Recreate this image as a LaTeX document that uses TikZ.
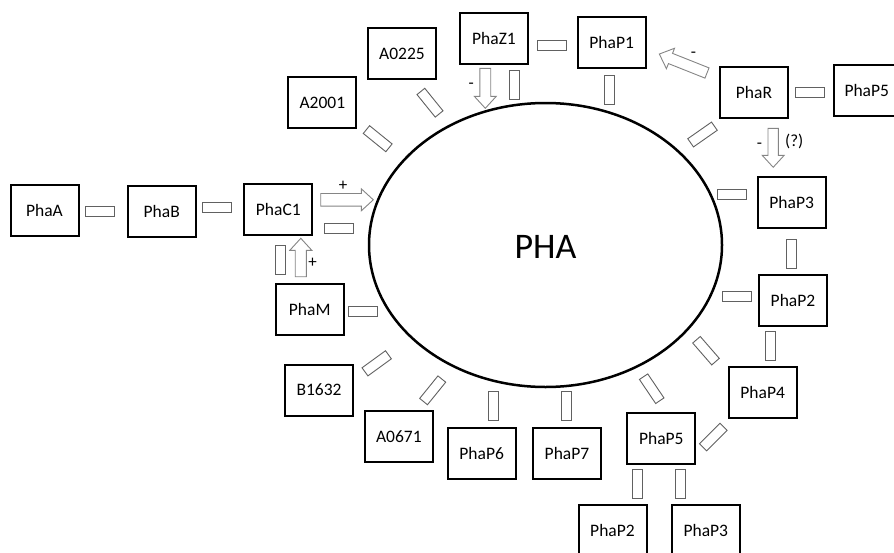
\documentclass[tikz,border=0pt]{standalone}
\usepackage{fontspec}
\setmainfont{Carlito}
\usetikzlibrary{shapes.geometric}
\newcommand{\blockarrow}[4]{% #1 tail point, #2 angle, #3 length, #4 half body width
  \draw[barrow, shift={#1}, rotate=#2] (0,-#4) -- ({#3-12},-#4) -- ({#3-12},-11) -- (#3,0) -- ({#3-12},11) -- ({#3-12},#4) -- (0,#4) -- cycle;}
\begin{document}
\begin{tikzpicture}[x=1pt,y=-1pt,
  box/.style={draw=black, line width=2pt, minimum width=68pt, minimum height=51pt, inner sep=0pt, fill=white, font=\fontsize{17.5}{20}\selectfont},
  link/.style={draw=black!62, line width=0.9pt, minimum width=29pt, minimum height=10pt, inner sep=0pt, fill=white},
  vlink/.style={link, minimum width=10pt, minimum height=29pt},
  barrow/.style={draw=black!48, line width=0.9pt, fill=white},
  sign/.style={anchor=base, inner sep=0pt, font=\fontsize{17}{20}\selectfont}]
\useasboundingbox (0,0) rectangle (894,552);
\clip (0,0) rectangle (894,552);

% central PHA ellipse
\node[draw=black, line width=2.5pt, ellipse, minimum width=353pt, minimum height=284pt, inner sep=0pt] (pha) at (545.5,245) {};
\node[font=\fontsize{36}{40}\selectfont, inner sep=0pt] (phatext) at (545.5,246.7) {PHA};

% boxes
\node[box] (phaA)  at (44.5,210)   {PhaA};
\node[box] (phaB)  at (161.7,211.3) {PhaB};
\node[box] (phaC1) at (278.3,209.7) {PhaC1};
\node[box] (phaM)  at (309.7,309.3) {PhaM};
\node[box] (a2001) at (322.3,102.7) {A2001};
\node[box] (a0225) at (402,53.7)   {A0225};
\node[box] (phaZ1) at (494,38.8)   {PhaZ1};
\node[box] (phaP1) at (611.7,42.3) {PhaP1};
\node[box] (phaR)  at (754,92)     {PhaR};
\node[box, text width=68pt, align=left] (phaP5t) at (868,90.7) {\hspace*{10.5pt}PhaP5};
\node[box] (phaP3) at (791.7,202.3) {PhaP3};
\node[box] (phaP2) at (793,300.7)  {PhaP2};
\node[box] (phaP4) at (762.7,392.3) {PhaP4};
\node[box] (phaP5) at (661.3,438.7) {PhaP5};
\node[box] (phaP2b) at (612.5,530)  {PhaP2};
\node[box] (phaP3b) at (705.8,530)  {PhaP3};
\node[box] (phaP7) at (567,453)    {PhaP7};
\node[box] (phaP6) at (481.7,453)  {PhaP6};
\node[box] (a0671) at (398.8,436.7) {A0671};
\node[box] (b1632) at (319,390)    {B1632};

% small link rectangles
\node[link] (l1) at (100,211) {};
\node[link] (l2) at (217.3,207.2) {};
\node[link] (l3) at (339,228) {};
\node[vlink] (l4) at (280,259.5) {};
\node[link] (l5) at (363.3,311.7) {};
\node[link, rotate=-39] (l6) at (377.7,138.7) {};
\node[link, rotate=-51] (l7) at (430,102.7) {};
\node[vlink] (l8) at (514.3,85) {};
\node[link] (l9) at (552.2,45) {};
\node[vlink] (l10) at (609.3,89.7) {};
\node[link, rotate=35] (l11) at (702.5,134.5) {};
\node[link] (l12) at (810.3,92) {};
\node[link] (l13) at (732.3,194.7) {};
\node[vlink] (l14) at (791.2,253.7) {};
\node[link] (l15) at (736.7,296.3) {};
\node[vlink] (l16) at (770,346.3) {};
\node[link, rotate=-49] (l17) at (706,350.7) {};
\node[link, rotate=-56] (l18) at (651.7,388.7) {};
\node[link, rotate=45] (l19) at (713.3,437) {};
\node[vlink] (l20) at (637.8,484) {};
\node[vlink] (l21) at (680.5,484) {};
\node[vlink] (l22) at (493.7,405.8) {};
\node[vlink] (l23) at (566.7,405.8) {};
\node[link, rotate=51] (l24) at (432.7,390.3) {};
\node[link, rotate=36] (l25) at (376.7,363.3) {};

% block arrows
\blockarrow{(320.7,199.8)}{0}{52.6}{6.3}
\blockarrow{(300.8,276.7)}{90}{38.4}{5.6}
\blockarrow{(485.3,68.3)}{-90}{40}{5.4}
\blockarrow{(707,73)}{158.3}{51.3}{5.5}
\blockarrow{(773.2,128.3)}{-90}{39}{5.2}

% signs
\node[sign] (s1) at (343,190) {+};
\node[sign] (s2) at (312.7,267.3) {+};
\node[sign] (s3) at (471.3,88) {-};
\node[sign] (s4) at (693.5,57) {-};
\node[sign] (s5) at (759.5,148.8) {-};
\node[sign] (s6) at (794.2,146) {(?)};
\end{tikzpicture}
\end{document}
